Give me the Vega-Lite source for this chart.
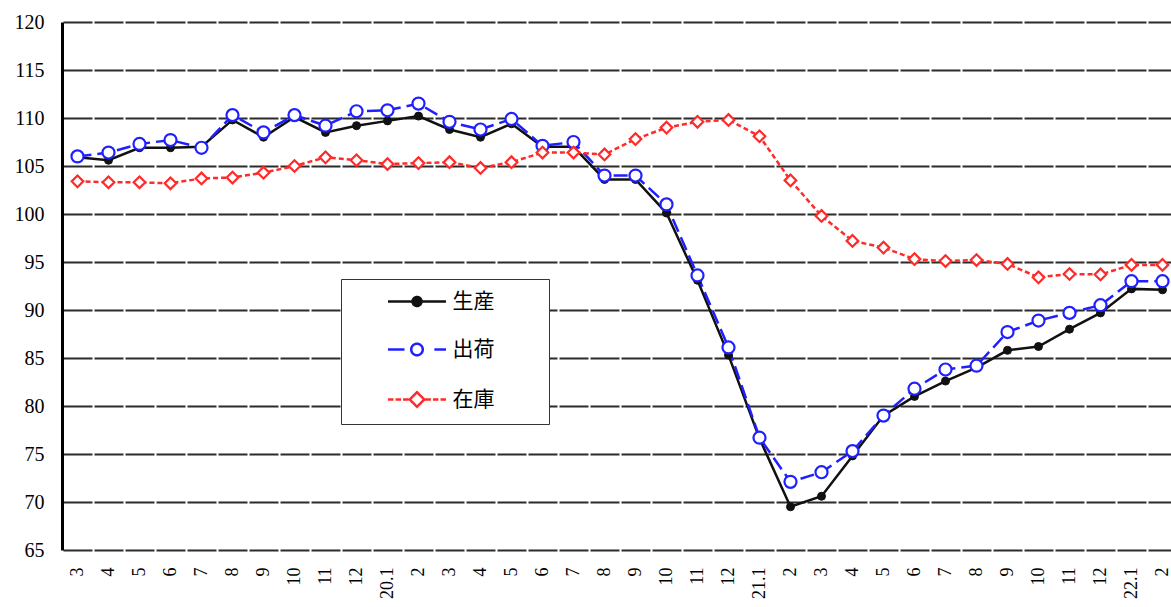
{
  "$schema": "https://vega.github.io/schema/vega-lite/v6.json",
  "width": 1109,
  "height": 528,
  "autosize": {"type": "none"},
  "padding": {"left": 62, "top": 22, "right": 0, "bottom": 57},
  "background": "white",
  "config": {"view": {"stroke": null}},
  "data": {
    "values": [
      {"t": "2019-03", "生産": 105.9, "出荷": 106.0, "在庫": 103.4},
      {"t": "2019-04", "生産": 105.6, "出荷": 106.4, "在庫": 103.3},
      {"t": "2019-05", "生産": 106.9, "出荷": 107.3, "在庫": 103.3},
      {"t": "2019-06", "生産": 106.9, "出荷": 107.7, "在庫": 103.2},
      {"t": "2019-07", "生産": 107.0, "出荷": 106.9, "在庫": 103.7},
      {"t": "2019-08", "生産": 109.8, "出荷": 110.3, "在庫": 103.8},
      {"t": "2019-09", "生産": 108.0, "出荷": 108.5, "在庫": 104.3},
      {"t": "2019-10", "生産": 110.1, "出荷": 110.3, "在庫": 105.0},
      {"t": "2019-11", "生産": 108.5, "出荷": 109.2, "在庫": 105.9},
      {"t": "2019-12", "生産": 109.2, "出荷": 110.7, "在庫": 105.6},
      {"t": "2020-01", "生産": 109.7, "出荷": 110.8, "在庫": 105.2},
      {"t": "2020-02", "生産": 110.2, "出荷": 111.5, "在庫": 105.3},
      {"t": "2020-03", "生産": 108.8, "出荷": 109.6, "在庫": 105.4},
      {"t": "2020-04", "生産": 108.0, "出荷": 108.8, "在庫": 104.8},
      {"t": "2020-05", "生産": 109.4, "出荷": 109.9, "在庫": 105.4},
      {"t": "2020-06", "生産": 107.0, "出荷": 107.1, "在庫": 106.4},
      {"t": "2020-07", "生産": 107.0, "出荷": 107.5, "在庫": 106.4},
      {"t": "2020-08", "生産": 103.6, "出荷": 104.0, "在庫": 106.2},
      {"t": "2020-09", "生産": 103.6, "出荷": 104.0, "在庫": 107.8},
      {"t": "2020-10", "生産": 100.1, "出荷": 101.0, "在庫": 109.0},
      {"t": "2020-11", "生産": 93.1, "出荷": 93.6, "在庫": 109.6},
      {"t": "2020-12", "生産": 85.3, "出荷": 86.1, "在庫": 109.8},
      {"t": "2021-01", "生産": 76.6, "出荷": 76.7, "在庫": 108.1},
      {"t": "2021-02", "生産": 69.5, "出荷": 72.1, "在庫": 103.5},
      {"t": "2021-03", "生産": 70.6, "出荷": 73.1, "在庫": 99.8},
      {"t": "2021-04", "生産": 74.8, "出荷": 75.3, "在庫": 97.2},
      {"t": "2021-05", "生産": 79.0, "出荷": 79.0, "在庫": 96.5},
      {"t": "2021-06", "生産": 81.0, "出荷": 81.8, "在庫": 95.3},
      {"t": "2021-07", "生産": 82.6, "出荷": 83.8, "在庫": 95.1},
      {"t": "2021-08", "生産": 84.0, "出荷": 84.2, "在庫": 95.2},
      {"t": "2021-09", "生産": 85.8, "出荷": 87.7, "在庫": 94.8},
      {"t": "2021-10", "生産": 86.2, "出荷": 88.9, "在庫": 93.4},
      {"t": "2021-11", "生産": 88.0, "出荷": 89.7, "在庫": 93.75},
      {"t": "2021-12", "生産": 89.7, "出荷": 90.5, "在庫": 93.7},
      {"t": "2022-01", "生産": 92.2, "出荷": 93.0, "在庫": 94.7},
      {"t": "2022-02", "生産": 92.1, "出荷": 93.0, "在庫": 94.7}
    ]
  },
  "transform": [{"fold": ["生産", "出荷", "在庫"], "as": ["series", "value"]}],
  "encoding": {
    "x": {
      "field": "t",
      "type": "ordinal",
      "title": null,
      "scale": {"type": "band", "paddingInner": 0, "paddingOuter": 0, "range": [0, 1116]},
      "axis": {
        "labelExpr": "slice(datum.value, 5) == '01' ? slice(datum.value, 2, 4) + '.1' : '' + toNumber(slice(datum.value, 5))",
        "labelAngle": 270,
        "labelFont": "Liberation Serif",
        "labelFontSize": 18,
        "labelColor": "black",
        "labelPadding": 17,
        "ticks": false,
        "domain": false,
        "grid": false
      }
    },
    "y": {
      "field": "value",
      "type": "quantitative",
      "title": null,
      "scale": {"domain": [65, 120], "nice": false, "zero": false},
      "axis": {
        "values": [65, 70, 75, 80, 85, 90, 95, 100, 105, 110, 115, 120],
        "labelFont": "Liberation Serif",
        "labelFontSize": 20,
        "labelColor": "black",
        "labelPadding": 18,
        "ticks": false,
        "domain": true,
        "domainColor": "black",
        "domainWidth": 3,
        "grid": true,
        "gridColor": "#2b2b2b",
        "gridWidth": 2,
        "gridDash": [29, 2],
        "gridDashOffset": 30
      }
    }
  },
  "layer": [
    {
      "transform": [{"filter": "datum.series === '生産'"}],
      "mark": {"type": "line", "strokeWidth": 2.5, "strokeCap": "butt"},
      "encoding": {
        "color": {
          "field": "series",
          "type": "nominal",
          "scale": {"domain": ["生産", "出荷", "在庫"], "range": ["#111111", "#1f1fff", "#ff2a2a"]},
          "legend": {
            "orient": "none",
            "legendX": 279,
            "legendY": 257,
            "title": null,
            "fillColor": "white",
            "strokeColor": "#333333",
            "padding": 12,
            "symbolSize": 324,
            "symbolStrokeWidth": 2.5,
            "symbolOffset": 53.5,
            "labelOffset": 25,
            "labelFont": "Noto Sans CJK JP",
            "labelFontSize": 21,
            "labelColor": "black",
            "rowPadding": 26,
            "encode": {
              "symbols": {
                "update": {
                  "shape": {"signal": "datum.value === '生産' ? 'M-3.22,0L-0.5,0M0.5,0L3.22,0M0.5,0A0.5,0.5,0,1,1,-0.5,0A0.5,0.5,0,1,1,0.5,0ZM12.7,0' : datum.value === '出荷' ? 'M-3.22,0L-1.39,0M1.93,0L3.22,0M0.64,0A0.64,0.64,0,1,1,-0.64,0A0.64,0.64,0,1,1,0.64,0ZM12.7,0' : 'M-3.22,0L-2.61,0M-2.38,0L-1.77,0M-1.55,0L-0.93,0M0.93,0L1.55,0M1.77,0L2.38,0M2.61,0L3.22,0M-0.81,0L0,-0.81L0.81,0L0,0.81ZM12.7,0'"},
                  "size": {"value": 324},
                  "strokeWidth": {"value": 2.5},
                  "fill": {"signal": "datum.value === '生産' ? '#111111' : 'white'"},
                  "strokeDash": {"value": [1, 0]},
                  "opacity": {"value": 1}
                }
              }
            }
          }
        }
      }
    },
    {
      "transform": [{"filter": "datum.series === '出荷'"}],
      "mark": {"type": "line", "strokeWidth": 2.5, "strokeCap": "butt", "strokeDash": [14, 6]},
      "encoding": {"color": {"field": "series", "type": "nominal"}}
    },
    {
      "transform": [{"filter": "datum.series === '在庫'"}],
      "mark": {"type": "line", "strokeWidth": 2.5, "strokeCap": "butt", "strokeDash": [5, 3]},
      "encoding": {"color": {"field": "series", "type": "nominal"}}
    },
    {
      "transform": [{"filter": "datum.series === '生産'"}],
      "mark": {"type": "point", "shape": "circle", "filled": true, "fill": "#111111", "stroke": "#111111", "strokeWidth": 1, "size": 64, "opacity": 1}
    },
    {
      "transform": [{"filter": "datum.series === '出荷'"}],
      "mark": {"type": "point", "shape": "circle", "filled": true, "fill": "white", "stroke": "#1f1fff", "strokeWidth": 2.2, "size": 145, "opacity": 1}
    },
    {
      "transform": [{"filter": "datum.series === '在庫'"}],
      "mark": {"type": "point", "shape": "diamond", "filled": true, "fill": "white", "stroke": "#ff2a2a", "strokeWidth": 2.2, "size": 135, "opacity": 1}
    }
  ]
}
